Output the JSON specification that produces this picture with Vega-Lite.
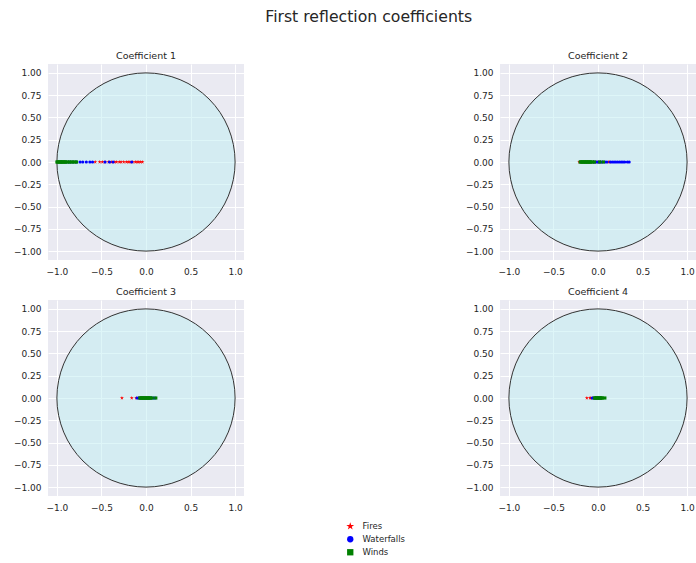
{
  "$schema": "https://vega.github.io/schema/vega-lite/v6.json",
  "padding": {"left": 13, "top": 8, "right": 1, "bottom": 5},
  "background": "white",
  "title": {"text": "First reflection coefficients", "fontSize": 15.7, "font": "DejaVu Sans", "fontWeight": "normal", "color": "#262626", "anchor": "middle", "offset": 25, "dx": 14},
  "data": {"values": [
    {"coef": "Coefficient 1", "cls": "circle", "re": 0, "im": 0},
    {"coef": "Coefficient 2", "cls": "circle", "re": 0, "im": 0},
    {"coef": "Coefficient 3", "cls": "circle", "re": 0, "im": 0},
    {"coef": "Coefficient 4", "cls": "circle", "re": 0, "im": 0},
    {"coef": "Coefficient 1", "cls": "Fires", "re": -0.57, "im": 0},
    {"coef": "Coefficient 1", "cls": "Fires", "re": -0.52, "im": 0},
    {"coef": "Coefficient 1", "cls": "Fires", "re": -0.49, "im": 0},
    {"coef": "Coefficient 1", "cls": "Fires", "re": -0.46, "im": 0},
    {"coef": "Coefficient 1", "cls": "Fires", "re": -0.42, "im": 0},
    {"coef": "Coefficient 1", "cls": "Fires", "re": -0.39, "im": 0},
    {"coef": "Coefficient 1", "cls": "Fires", "re": -0.35, "im": 0},
    {"coef": "Coefficient 1", "cls": "Fires", "re": -0.33, "im": 0},
    {"coef": "Coefficient 1", "cls": "Fires", "re": -0.30, "im": 0},
    {"coef": "Coefficient 1", "cls": "Fires", "re": -0.28, "im": 0},
    {"coef": "Coefficient 1", "cls": "Fires", "re": -0.25, "im": 0},
    {"coef": "Coefficient 1", "cls": "Fires", "re": -0.22, "im": 0},
    {"coef": "Coefficient 1", "cls": "Fires", "re": -0.20, "im": 0},
    {"coef": "Coefficient 1", "cls": "Fires", "re": -0.18, "im": 0},
    {"coef": "Coefficient 1", "cls": "Fires", "re": -0.15, "im": 0},
    {"coef": "Coefficient 1", "cls": "Fires", "re": -0.12, "im": 0},
    {"coef": "Coefficient 1", "cls": "Fires", "re": -0.10, "im": 0},
    {"coef": "Coefficient 1", "cls": "Fires", "re": -0.08, "im": 0},
    {"coef": "Coefficient 1", "cls": "Fires", "re": -0.06, "im": 0},
    {"coef": "Coefficient 1", "cls": "Fires", "re": -0.04, "im": 0},
    {"coef": "Coefficient 1", "cls": "Waterfalls", "re": -0.95, "im": 0},
    {"coef": "Coefficient 1", "cls": "Waterfalls", "re": -0.90, "im": 0},
    {"coef": "Coefficient 1", "cls": "Waterfalls", "re": -0.87, "im": 0},
    {"coef": "Coefficient 1", "cls": "Waterfalls", "re": -0.85, "im": 0},
    {"coef": "Coefficient 1", "cls": "Waterfalls", "re": -0.82, "im": 0},
    {"coef": "Coefficient 1", "cls": "Waterfalls", "re": -0.78, "im": 0},
    {"coef": "Coefficient 1", "cls": "Waterfalls", "re": -0.74, "im": 0},
    {"coef": "Coefficient 1", "cls": "Waterfalls", "re": -0.71, "im": 0},
    {"coef": "Coefficient 1", "cls": "Waterfalls", "re": -0.67, "im": 0},
    {"coef": "Coefficient 1", "cls": "Waterfalls", "re": -0.63, "im": 0},
    {"coef": "Coefficient 1", "cls": "Waterfalls", "re": -0.60, "im": 0},
    {"coef": "Coefficient 1", "cls": "Waterfalls", "re": -0.46, "im": 0},
    {"coef": "Coefficient 1", "cls": "Waterfalls", "re": -0.41, "im": 0},
    {"coef": "Coefficient 1", "cls": "Waterfalls", "re": -0.37, "im": 0},
    {"coef": "Coefficient 1", "cls": "Waterfalls", "re": -0.16, "im": 0},
    {"coef": "Coefficient 1", "cls": "Winds", "re": -1.0, "im": 0},
    {"coef": "Coefficient 1", "cls": "Winds", "re": -0.99, "im": 0},
    {"coef": "Coefficient 1", "cls": "Winds", "re": -0.98, "im": 0},
    {"coef": "Coefficient 1", "cls": "Winds", "re": -0.97, "im": 0},
    {"coef": "Coefficient 1", "cls": "Winds", "re": -0.96, "im": 0},
    {"coef": "Coefficient 1", "cls": "Winds", "re": -0.95, "im": 0},
    {"coef": "Coefficient 1", "cls": "Winds", "re": -0.94, "im": 0},
    {"coef": "Coefficient 1", "cls": "Winds", "re": -0.93, "im": 0},
    {"coef": "Coefficient 1", "cls": "Winds", "re": -0.92, "im": 0},
    {"coef": "Coefficient 1", "cls": "Winds", "re": -0.91, "im": 0},
    {"coef": "Coefficient 1", "cls": "Winds", "re": -0.90, "im": 0},
    {"coef": "Coefficient 1", "cls": "Winds", "re": -0.88, "im": 0},
    {"coef": "Coefficient 1", "cls": "Winds", "re": -0.86, "im": 0},
    {"coef": "Coefficient 1", "cls": "Winds", "re": -0.84, "im": 0},
    {"coef": "Coefficient 1", "cls": "Winds", "re": -0.82, "im": 0},
    {"coef": "Coefficient 1", "cls": "Winds", "re": -0.80, "im": 0},
    {"coef": "Coefficient 1", "cls": "Winds", "re": -0.78, "im": 0},
    {"coef": "Coefficient 2", "cls": "Fires", "re": -0.21, "im": 0},
    {"coef": "Coefficient 2", "cls": "Fires", "re": -0.20, "im": 0},
    {"coef": "Coefficient 2", "cls": "Fires", "re": -0.18, "im": 0},
    {"coef": "Coefficient 2", "cls": "Fires", "re": -0.16, "im": 0},
    {"coef": "Coefficient 2", "cls": "Fires", "re": -0.14, "im": 0},
    {"coef": "Coefficient 2", "cls": "Fires", "re": -0.12, "im": 0},
    {"coef": "Coefficient 2", "cls": "Fires", "re": -0.10, "im": 0},
    {"coef": "Coefficient 2", "cls": "Fires", "re": -0.08, "im": 0},
    {"coef": "Coefficient 2", "cls": "Fires", "re": -0.05, "im": 0},
    {"coef": "Coefficient 2", "cls": "Fires", "re": -0.02, "im": 0},
    {"coef": "Coefficient 2", "cls": "Fires", "re": 0.0, "im": 0},
    {"coef": "Coefficient 2", "cls": "Fires", "re": 0.03, "im": 0},
    {"coef": "Coefficient 2", "cls": "Fires", "re": 0.12, "im": 0},
    {"coef": "Coefficient 2", "cls": "Fires", "re": 0.13, "im": 0},
    {"coef": "Coefficient 2", "cls": "Waterfalls", "re": -0.08, "im": 0},
    {"coef": "Coefficient 2", "cls": "Waterfalls", "re": -0.05, "im": 0},
    {"coef": "Coefficient 2", "cls": "Waterfalls", "re": -0.03, "im": 0},
    {"coef": "Coefficient 2", "cls": "Waterfalls", "re": -0.01, "im": 0},
    {"coef": "Coefficient 2", "cls": "Waterfalls", "re": 0.01, "im": 0},
    {"coef": "Coefficient 2", "cls": "Waterfalls", "re": 0.03, "im": 0},
    {"coef": "Coefficient 2", "cls": "Waterfalls", "re": 0.05, "im": 0},
    {"coef": "Coefficient 2", "cls": "Waterfalls", "re": 0.08, "im": 0},
    {"coef": "Coefficient 2", "cls": "Waterfalls", "re": 0.10, "im": 0},
    {"coef": "Coefficient 2", "cls": "Waterfalls", "re": 0.14, "im": 0},
    {"coef": "Coefficient 2", "cls": "Waterfalls", "re": 0.16, "im": 0},
    {"coef": "Coefficient 2", "cls": "Waterfalls", "re": 0.18, "im": 0},
    {"coef": "Coefficient 2", "cls": "Waterfalls", "re": 0.20, "im": 0},
    {"coef": "Coefficient 2", "cls": "Waterfalls", "re": 0.22, "im": 0},
    {"coef": "Coefficient 2", "cls": "Waterfalls", "re": 0.24, "im": 0},
    {"coef": "Coefficient 2", "cls": "Waterfalls", "re": 0.26, "im": 0},
    {"coef": "Coefficient 2", "cls": "Waterfalls", "re": 0.28, "im": 0},
    {"coef": "Coefficient 2", "cls": "Waterfalls", "re": 0.30, "im": 0},
    {"coef": "Coefficient 2", "cls": "Waterfalls", "re": 0.33, "im": 0},
    {"coef": "Coefficient 2", "cls": "Waterfalls", "re": 0.35, "im": 0},
    {"coef": "Coefficient 2", "cls": "Winds", "re": -0.20, "im": 0},
    {"coef": "Coefficient 2", "cls": "Winds", "re": -0.19, "im": 0},
    {"coef": "Coefficient 2", "cls": "Winds", "re": -0.18, "im": 0},
    {"coef": "Coefficient 2", "cls": "Winds", "re": -0.17, "im": 0},
    {"coef": "Coefficient 2", "cls": "Winds", "re": -0.16, "im": 0},
    {"coef": "Coefficient 2", "cls": "Winds", "re": -0.15, "im": 0},
    {"coef": "Coefficient 2", "cls": "Winds", "re": -0.14, "im": 0},
    {"coef": "Coefficient 2", "cls": "Winds", "re": -0.13, "im": 0},
    {"coef": "Coefficient 2", "cls": "Winds", "re": -0.12, "im": 0},
    {"coef": "Coefficient 2", "cls": "Winds", "re": -0.11, "im": 0},
    {"coef": "Coefficient 2", "cls": "Winds", "re": -0.10, "im": 0},
    {"coef": "Coefficient 2", "cls": "Winds", "re": -0.09, "im": 0},
    {"coef": "Coefficient 2", "cls": "Winds", "re": -0.08, "im": 0},
    {"coef": "Coefficient 2", "cls": "Winds", "re": -0.06, "im": 0},
    {"coef": "Coefficient 2", "cls": "Winds", "re": -0.04, "im": 0},
    {"coef": "Coefficient 2", "cls": "Winds", "re": 0.02, "im": 0},
    {"coef": "Coefficient 2", "cls": "Winds", "re": 0.06, "im": 0},
    {"coef": "Coefficient 3", "cls": "Fires", "re": -0.27, "im": 0},
    {"coef": "Coefficient 3", "cls": "Fires", "re": -0.16, "im": 0},
    {"coef": "Coefficient 3", "cls": "Fires", "re": -0.11, "im": 0},
    {"coef": "Coefficient 3", "cls": "Fires", "re": -0.08, "im": 0},
    {"coef": "Coefficient 3", "cls": "Fires", "re": -0.05, "im": 0},
    {"coef": "Coefficient 3", "cls": "Fires", "re": -0.03, "im": 0},
    {"coef": "Coefficient 3", "cls": "Fires", "re": -0.01, "im": 0},
    {"coef": "Coefficient 3", "cls": "Fires", "re": 0.01, "im": 0},
    {"coef": "Coefficient 3", "cls": "Fires", "re": 0.03, "im": 0},
    {"coef": "Coefficient 3", "cls": "Waterfalls", "re": -0.10, "im": 0},
    {"coef": "Coefficient 3", "cls": "Waterfalls", "re": -0.08, "im": 0},
    {"coef": "Coefficient 3", "cls": "Waterfalls", "re": -0.06, "im": 0},
    {"coef": "Coefficient 3", "cls": "Waterfalls", "re": -0.04, "im": 0},
    {"coef": "Coefficient 3", "cls": "Waterfalls", "re": -0.02, "im": 0},
    {"coef": "Coefficient 3", "cls": "Waterfalls", "re": 0.0, "im": 0},
    {"coef": "Coefficient 3", "cls": "Waterfalls", "re": 0.02, "im": 0},
    {"coef": "Coefficient 3", "cls": "Waterfalls", "re": 0.04, "im": 0},
    {"coef": "Coefficient 3", "cls": "Waterfalls", "re": 0.06, "im": 0},
    {"coef": "Coefficient 3", "cls": "Waterfalls", "re": 0.08, "im": 0},
    {"coef": "Coefficient 3", "cls": "Waterfalls", "re": 0.10, "im": 0},
    {"coef": "Coefficient 3", "cls": "Winds", "re": -0.07, "im": 0},
    {"coef": "Coefficient 3", "cls": "Winds", "re": -0.06, "im": 0},
    {"coef": "Coefficient 3", "cls": "Winds", "re": -0.05, "im": 0},
    {"coef": "Coefficient 3", "cls": "Winds", "re": -0.04, "im": 0},
    {"coef": "Coefficient 3", "cls": "Winds", "re": -0.03, "im": 0},
    {"coef": "Coefficient 3", "cls": "Winds", "re": -0.02, "im": 0},
    {"coef": "Coefficient 3", "cls": "Winds", "re": -0.01, "im": 0},
    {"coef": "Coefficient 3", "cls": "Winds", "re": 0.0, "im": 0},
    {"coef": "Coefficient 3", "cls": "Winds", "re": 0.01, "im": 0},
    {"coef": "Coefficient 3", "cls": "Winds", "re": 0.02, "im": 0},
    {"coef": "Coefficient 3", "cls": "Winds", "re": 0.03, "im": 0},
    {"coef": "Coefficient 3", "cls": "Winds", "re": 0.04, "im": 0},
    {"coef": "Coefficient 3", "cls": "Winds", "re": 0.05, "im": 0},
    {"coef": "Coefficient 3", "cls": "Winds", "re": 0.07, "im": 0},
    {"coef": "Coefficient 3", "cls": "Winds", "re": 0.11, "im": 0},
    {"coef": "Coefficient 4", "cls": "Fires", "re": -0.125, "im": 0},
    {"coef": "Coefficient 4", "cls": "Fires", "re": -0.09, "im": 0},
    {"coef": "Coefficient 4", "cls": "Fires", "re": -0.08, "im": 0},
    {"coef": "Coefficient 4", "cls": "Fires", "re": -0.06, "im": 0},
    {"coef": "Coefficient 4", "cls": "Fires", "re": -0.03, "im": 0},
    {"coef": "Coefficient 4", "cls": "Fires", "re": -0.01, "im": 0},
    {"coef": "Coefficient 4", "cls": "Waterfalls", "re": -0.065, "im": 0},
    {"coef": "Coefficient 4", "cls": "Waterfalls", "re": -0.05, "im": 0},
    {"coef": "Coefficient 4", "cls": "Waterfalls", "re": -0.03, "im": 0},
    {"coef": "Coefficient 4", "cls": "Waterfalls", "re": -0.01, "im": 0},
    {"coef": "Coefficient 4", "cls": "Waterfalls", "re": 0.01, "im": 0},
    {"coef": "Coefficient 4", "cls": "Waterfalls", "re": 0.03, "im": 0},
    {"coef": "Coefficient 4", "cls": "Winds", "re": -0.04, "im": 0},
    {"coef": "Coefficient 4", "cls": "Winds", "re": -0.03, "im": 0},
    {"coef": "Coefficient 4", "cls": "Winds", "re": -0.02, "im": 0},
    {"coef": "Coefficient 4", "cls": "Winds", "re": -0.01, "im": 0},
    {"coef": "Coefficient 4", "cls": "Winds", "re": 0.0, "im": 0},
    {"coef": "Coefficient 4", "cls": "Winds", "re": 0.01, "im": 0},
    {"coef": "Coefficient 4", "cls": "Winds", "re": 0.02, "im": 0},
    {"coef": "Coefficient 4", "cls": "Winds", "re": 0.03, "im": 0},
    {"coef": "Coefficient 4", "cls": "Winds", "re": 0.04, "im": 0},
    {"coef": "Coefficient 4", "cls": "Winds", "re": 0.05, "im": 0},
    {"coef": "Coefficient 4", "cls": "Winds", "re": 0.077, "im": 0}
  ]},
  "facet": {"field": "coef", "type": "nominal", "header": {"title": null, "labelFont": "DejaVu Sans", "labelFontSize": 9.5, "labelColor": "#262626", "labelPadding": 4}},
  "columns": 2,
  "spacing": {"column": 221, "row": 10},
  "resolve": {"axis": {"x": "independent", "y": "independent"}},
  "spec": {
    "width": 196,
    "height": 196,
    "encoding": {
      "x": {"field": "re", "type": "quantitative", "scale": {"domain": [-1.1, 1.1], "nice": false, "zero": false}, "axis": {"values": [-1, -0.5, 0, 0.5, 1], "format": ".1f", "title": null, "labelOverlap": false}},
      "y": {"field": "im", "type": "quantitative", "scale": {"domain": [-1.1, 1.1], "nice": false, "zero": false}, "axis": {"values": [-1, -0.75, -0.5, -0.25, 0, 0.25, 0.5, 0.75, 1], "format": ".2f", "title": null, "labelOverlap": false}}
    },
    "layer": [
      {
        "transform": [{"filter": "datum.cls === 'circle'"}],
        "mark": {"type": "point", "shape": "circle", "size": 31755, "filled": true, "fill": "#BDEDF2", "fillOpacity": 0.5, "stroke": "#333333", "strokeWidth": 1, "strokeOpacity": 1}
      },
      {
        "transform": [{"filter": "datum.cls !== 'circle'"}],
        "mark": {"type": "point", "filled": true, "size": 10, "opacity": 1},
        "encoding": {
          "color": {"field": "cls", "type": "nominal", "scale": {"domain": ["Fires", "Waterfalls", "Winds"], "range": ["#ff0000", "#0000ff", "#008000"]}, "legend": {"title": null}},
          "shape": {"field": "cls", "type": "nominal", "scale": {"domain": ["Fires", "Waterfalls", "Winds"], "range": ["M0,-1.3L0.292,-0.402L1.236,-0.402L0.472,0.153L0.764,1.052L0,0.497L-0.764,1.052L-0.472,0.153L-1.236,-0.402L-0.292,-0.402Z", "circle", "square"]}, "legend": {"title": null}}
        }
      }
    ]
  },
  "config": {
    "font": "DejaVu Sans",
    "view": {"fill": "#EAEAF2", "stroke": null},
    "axis": {"domain": false, "ticks": false, "grid": true, "gridColor": "#ffffff", "gridWidth": 1, "gridOpacity": 1, "labelFont": "DejaVu Sans", "labelFontSize": 9, "labelColor": "#262626", "labelPadding": 7},
    "legend": {"orient": "none", "legendX": 298, "legendY": 458, "labelFont": "DejaVu Sans", "labelFontSize": 8.5, "labelColor": "#262626", "symbolSize": 40, "rowPadding": 4, "labelOffset": 8, "symbolStrokeWidth": 0}
  }
}
